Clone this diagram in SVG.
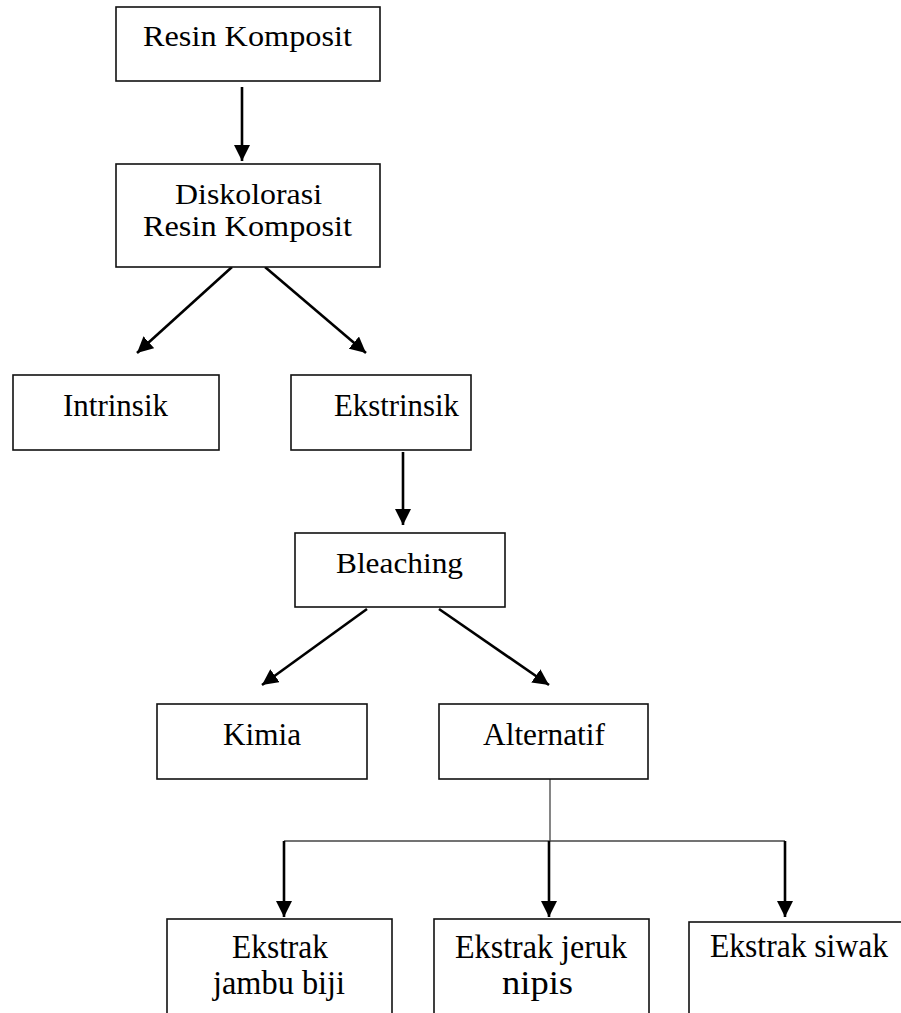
<svg xmlns="http://www.w3.org/2000/svg" width="901" height="1013" viewBox="0 0 901 1013">
<style>
.box{fill:#fff;stroke:#111;stroke-width:1.6}
.t{font-family:"Liberation Serif","Times New Roman",serif;fill:#000;text-anchor:start}
.arr{stroke:#000;stroke-width:2.6;fill:none;marker-end:url(#ah)}
.thin{stroke:#444;stroke-width:1.3;fill:none}
</style>
<defs>
<marker id="ah" markerUnits="userSpaceOnUse" viewBox="0 0 16 16" refX="16" refY="8" markerWidth="16" markerHeight="16" orient="auto">
<path d="M0,0 L16,8 L0,16 Z" fill="#000"/>
</marker>
</defs>
<rect width="901" height="1013" fill="#fff"/>
<g id="connectors">
<line class="arr" x1="242" y1="87" x2="242" y2="161"/>
<line class="arr" x1="232" y1="267" x2="137" y2="353"/>
<line class="arr" x1="265" y1="267" x2="366" y2="353"/>
<line class="arr" x1="403" y1="452" x2="403" y2="525"/>
<line class="arr" x1="367" y1="609" x2="262" y2="685"/>
<line class="arr" x1="439" y1="609" x2="549" y2="685"/>
<line class="thin" x1="550" y1="779" x2="550" y2="841"/>
<line class="thin" x1="284" y1="841" x2="785" y2="841"/>
<line class="arr" x1="284" y1="841" x2="284" y2="917"/>
<line class="arr" x1="549" y1="841" x2="549" y2="917"/>
<line class="arr" x1="785" y1="841" x2="785" y2="917"/>
</g>
<g id="n-resin">
<rect class="box" x="116" y="7" width="264" height="74"/>
<text class="t" x="143" y="46" font-size="29" textLength="209" lengthAdjust="spacingAndGlyphs">Resin Komposit</text>
</g>
<g id="n-diskolorasi">
<rect class="box" x="116" y="164" width="264" height="103"/>
<text class="t" x="175" y="204" font-size="29" textLength="147" lengthAdjust="spacingAndGlyphs">Diskolorasi</text>
<text class="t" x="143" y="236" font-size="29" textLength="209" lengthAdjust="spacingAndGlyphs">Resin Komposit</text>
</g>
<g id="n-intrinsik">
<rect class="box" x="13" y="375" width="206" height="75"/>
<text class="t" x="63" y="416" font-size="31" textLength="105" lengthAdjust="spacingAndGlyphs">Intrinsik</text>
</g>
<g id="n-ekstrinsik">
<rect class="box" x="291" y="375" width="180" height="75"/>
<text class="t" x="334" y="416" font-size="31" textLength="125" lengthAdjust="spacingAndGlyphs">Ekstrinsik</text>
</g>
<g id="n-bleaching">
<rect class="box" x="295" y="533" width="210" height="74"/>
<text class="t" x="336" y="573" font-size="29" textLength="127" lengthAdjust="spacingAndGlyphs">Bleaching</text>
</g>
<g id="n-kimia">
<rect class="box" x="157" y="704" width="210" height="75"/>
<text class="t" x="223" y="745" font-size="32" textLength="78" lengthAdjust="spacingAndGlyphs">Kimia</text>
</g>
<g id="n-alternatif">
<rect class="box" x="439" y="704" width="209" height="75"/>
<text class="t" x="483" y="745" font-size="32" textLength="122" lengthAdjust="spacingAndGlyphs">Alternatif</text>
</g>
<g id="n-jambu">
<rect class="box" x="167" y="919" width="225" height="110"/>
<text class="t" x="232" y="958" font-size="33" textLength="96" lengthAdjust="spacingAndGlyphs">Ekstrak</text>
<text class="t" x="213" y="994" font-size="33" textLength="132" lengthAdjust="spacingAndGlyphs">jambu biji</text>
</g>
<g id="n-jeruk">
<rect class="box" x="434" y="919" width="215" height="110"/>
<text class="t" x="455" y="958" font-size="33" textLength="172" lengthAdjust="spacingAndGlyphs">Ekstrak jeruk</text>
<text class="t" x="502" y="994" font-size="33" textLength="71" lengthAdjust="spacingAndGlyphs">nipis</text>
</g>
<g id="n-siwak">
<rect class="box" x="689" y="922" width="220" height="110"/>
<text class="t" x="710" y="957" font-size="33" textLength="178" lengthAdjust="spacingAndGlyphs">Ekstrak siwak</text>
</g>
</svg>
